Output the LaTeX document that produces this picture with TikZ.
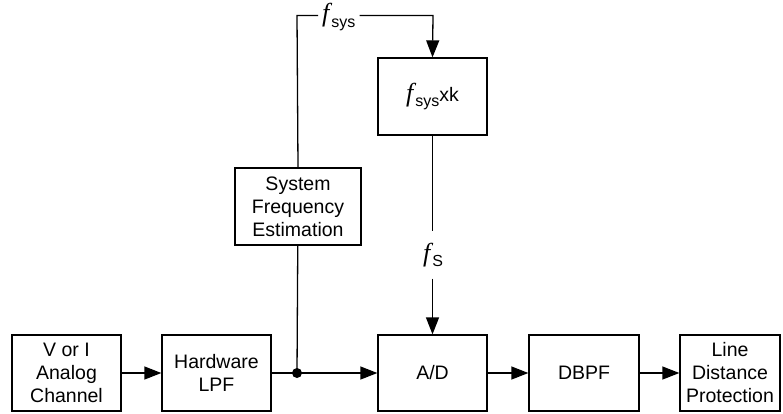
\documentclass[tikz,border=0pt]{standalone}
\usepackage{fontspec}
\setmainfont{Liberation Sans}
\newfontfamily\timesit{Liberation Serif}[ItalicFont={* Italic}]
\usetikzlibrary{arrows.meta}
\newcommand\fsym[1]{{\timesit\itshape\fontsize{26}{26}\selectfont f}\kern2pt\raisebox{-5.5pt}{\fontsize{16}{16}\selectfont #1}}
\tikzset{
  blk/.style={draw, line width=1.3pt, minimum width=109pt, minimum height=76pt, align=center, inner sep=1pt,
    font=\fontsize{19.5}{23}\selectfont},
  conn/.style={line width=1.3pt},
  arr/.style={conn, -{Triangle[length=17pt,width=13pt]}},
  lbl/.style={inner xsep=4pt, inner ysep=11.5pt},
}
\begin{document}
\begin{tikzpicture}[x=1pt,y=-1pt]
\useasboundingbox (0,0) rectangle (783,413);
\node[blk] (b1) at (66.5,373) {V or I\\Analog\\Channel};
\node[blk] (b2) at (216.5,373) {Hardware\\LPF};
\node[blk] (ad) at (432.5,373) {A/D};
\node[blk, minimum width=110pt] (dbpf) at (584,373) {DBPF};
\node[blk, minimum width=100pt] (ldp) at (730,373) {Line\\Distance\\Protection};
\node[blk, minimum width=126pt, minimum height=77pt] (sfe) at (298,206.5) {System\\Frequency\\Estimation};
\node[blk, minimum height=77pt] (mult) at (432.5,96.5) {\fsym{sys}xk};
\coordinate (j) at (297,373);
\fill (j) circle (5pt);
\coordinate (tl) at (297,15.5);
\coordinate (tr) at (433,15.5);
\node[lbl, anchor=base west] (fsys) at (318,21.5) {\fsym{sys}};
\node[lbl] (fs) at (433,255) {\fsym{S}};
\draw[conn] (j) -- (sfe);
\draw[conn] (sfe.north) -- (tl) -- (tl -| fsys.west);
\draw[arr] (tr -| fsys.east) -- (tr) -- (mult.north);
\draw[conn] (mult.south) -- (fs.north -| mult.south);
\draw[arr] (fs.south -| ad.north) -- (ad.north);
\draw[arr] (b1) -- (b2);
\draw[conn] (b2) -- (j);
\draw[arr] (j) -- (ad);
\draw[arr] (ad) -- (dbpf);
\draw[arr] (dbpf) -- (ldp);
\end{tikzpicture}
\end{document}
